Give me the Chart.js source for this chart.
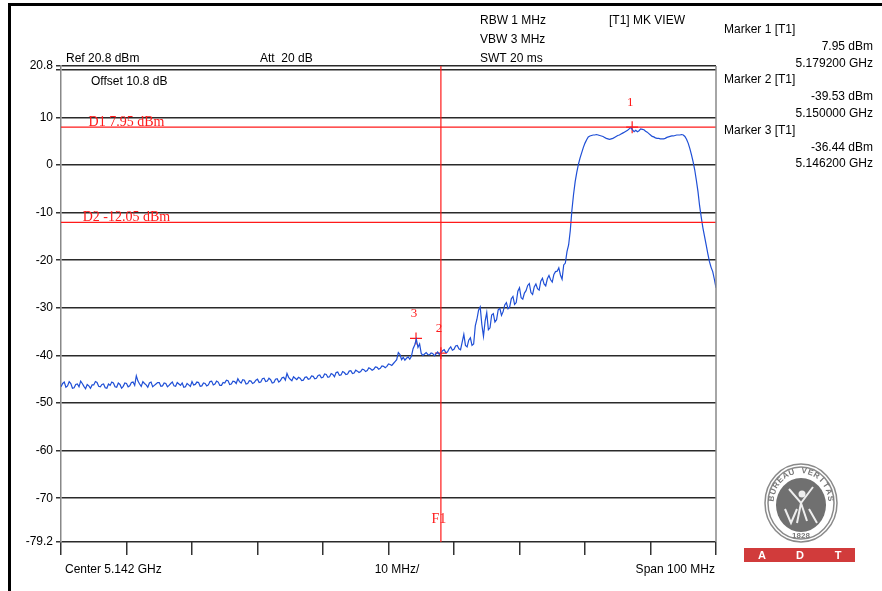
<!DOCTYPE html>
<html lang="en">
  <head>
    <meta charset="UTF-8" />
    <title>Band edge plot</title>
    <script src="https://cdn.jsdelivr.net/npm/chart.js@4.4.1/dist/chart.umd.min.js"></script>
    <style>
      body { margin: 0; background: #fff; }
      canvas { display: block; }
    </style>
  </head>
  <body>
    <canvas id="chart" width="882" height="591"></canvas>
    <script>
      // sweep: 5.092 .. 5.192 GHz, one point every 0.25 MHz (401 points)
      const freqStartMHz = 5092;
      const freqStepMHz = 0.25;
      const traceDbm = [
        // noise floor
        -46.6, -45.9, -45.6, -46.7, -46.4, -45.5, -45.9, -46.9, -46.8, -46.1, -46.0, -46.6, -45.4, -45.9, -46.5, -47.0, -46.1, -46.4, -46.9, -46.2,
        -46.2, -45.5, -45.7, -46.5, -46.6, -46.1, -46.0, -46.8, -46.9, -46.0, -46.3, -45.6, -45.8, -46.6, -46.7, -45.8, -46.1, -46.9, -46.5, -45.8,
        -45.9, -46.6, -46.4, -45.7, -45.6, -46.3, -44.3, -45.4, -46.0, -46.5, -45.5, -45.9, -46.2, -46.7, -45.8, -45.6, -46.6, -46.3, -46.0, -45.7,
        -45.7, -46.5, -46.4, -45.8, -45.9, -46.6, -46.3, -45.9, -45.6, -46.4, -46.5, -45.7, -46.0, -46.3, -45.8, -46.7, -46.6, -45.9, -46.2, -46.5,
        -45.5, -46.2, -46.1, -45.6, -45.7, -46.5, -46.4, -45.8, -45.9, -46.4, -46.2, -45.5, -45.4, -46.2, -46.0, -45.4, -45.6, -46.3, -46.3, -45.7,
        -45.8, -45.2, -45.3, -46.1, -46.0, -45.4, -45.5, -45.9, -44.9, -45.5, -45.8, -45.1, -45.2, -46.0, -45.9, -45.3, -45.4, -45.9, -45.7, -45.2,
        -45.0, -45.7, -45.6, -44.9, -44.8, -45.5, -45.4, -44.8, -45.1, -45.8, -45.7, -45.0, -44.9, -45.6, -45.3, -44.7, -44.6, -45.2, -43.8, -44.6,
        -45.0, -45.3, -44.5, -44.8, -45.1,
        // slow rise towards the band edge
        -44.6, -44.8, -45.3, -45.2, -44.6, -44.5, -45.0, -44.9, -44.3, -44.4, -44.9, -44.8, -44.2, -44.1, -44.7, -44.6, -43.9, -44.0, -44.6, -44.5,
        -43.8, -44.0, -44.5, -43.6, -43.5, -44.2, -44.1, -43.4, -43.6, -44.0, -43.9, -43.3, -43.2, -43.8, -43.7, -43.1, -43.3, -43.6, -43.4, -42.9,
        -43.0, -43.4, -43.2, -42.6, -42.8, -43.1, -42.9, -42.4, -42.5, -42.9, -42.7, -42.2, -42.3, -42.6, -42.3, -41.8, -41.9, -42.1, -41.7, -41.3,
        -40.9, -39.4, -39.8, -40.9, -40.4, -41.0, -40.6, -40.3, -40.8, -40.2, -38.6, -37.8, -36.6, -38.3, -37.6, -39.6, -40.0, -39.7, -39.4, -39.8,
        -39.9, -39.5, -39.6, -40.1, -39.7, -39.3, -39.8, -39.5,
        // skirt
        -39.0, -38.8, -39.4, -39.3, -38.6, -38.2, -38.9, -38.7, -38.0, -37.9, -38.6, -38.8, -37.2, -35.6, -37.9, -38.2, -36.8, -36.3, -37.9, -37.6,
        -33.8, -32.4, -30.5, -29.8, -33.5, -36.0, -32.8, -31.0, -34.6, -34.2, -31.5, -31.2, -33.0, -32.5, -30.4, -30.1, -31.6, -30.8, -29.4, -28.9,
        -30.2, -29.8, -28.1, -27.6, -29.3, -28.9, -26.5, -25.8, -27.9, -28.2, -26.9, -26.4, -25.3, -24.9, -26.8, -27.2, -25.6, -25.0, -26.0, -26.3,
        -24.4, -23.8, -25.0, -25.4, -23.9, -23.2, -24.1, -24.6, -23.0, -22.4, -22.3, -21.6, -23.1, -24.0, -21.0, -20.6, -18.2, -16.8, -13.8,
        // channel
        -9.5, -6.2, -3.5, -1.5, 0.2, 1.5, 2.6, 3.7, 4.6, 5.3, 5.9, 6.1, 6.2, 6.3, 6.3, 6.4, 6.3, 6.2, 6.1, 6.0,
        5.8, 5.6, 5.5, 5.4, 5.5, 5.6, 5.8, 6.0, 6.2, 6.3, 6.5, 6.7, 6.9, 7.1, 7.3, 7.6, 7.9, 7.4, 7.0, 7.3,
        7.0, 7.2, 7.6, 7.5, 7.4, 7.1, 6.9, 6.6, 6.3, 6.0, 5.9, 5.7, 5.6, 5.6, 5.5, 5.5, 5.5, 5.6, 5.8, 5.9,
        6.0, 6.1, 6.1, 6.2, 6.3, 6.3, 6.3, 6.4, 6.3, 6.0, 5.4, 4.6, 3.5, 2.2, 0.7, -1.0, -3.2, -5.6, -8.6, -11.0,
        -13.2, -15.0, -16.8, -18.6, -20.3, -21.5, -22.4, -24.0, -25.8
      ];

      const markerNames = ['1', '2', '3'];
      const markerFreqMHz = [5179.2, 5150.0, 5146.2];
      const markerDbm = [7.95, -39.53, -36.44];

      const displayLineNames = ['D1 7.95 dBm', 'D2 -12.05 dBm'];
      const displayLineDbm = [7.95, -12.05];
      const freqLineName = 'F1';
      const freqLineMHz = 5150;

      const yTicks = [20.8, 20, 10, 0, -10, -20, -30, -40, -50, -60, -70, -79.2];
      const yMin = -79.2;
      const yMax = 20.8;
      const xTicksMHz = [5092, 5102, 5112, 5122, 5132, 5142, 5152, 5162, 5172, 5182, 5192];

      const sans = '"Liberation Sans", Arial, sans-serif';
      const serif = '"Liberation Serif", "Times New Roman", serif';
      const red = '#ff1a1a';

      const trace = traceDbm.map((v, i) => ({ x: freqStartMHz + i * freqStepMHz, y: v }));
      const markers = markerFreqMHz.map((f, i) => ({ x: f, y: markerDbm[i] }));

      const datasets = [];
      displayLineDbm.forEach(d => {
        datasets.push({
          data: [{ x: xTicksMHz[0], y: d }, { x: xTicksMHz[xTicksMHz.length - 1], y: d }],
          borderColor: red, borderWidth: 1.2, pointRadius: 0
        });
      });
      datasets.push({
        data: [{ x: freqLineMHz, y: yMax }, { x: freqLineMHz, y: yMin }],
        borderColor: red, borderWidth: 1.2, pointRadius: 0
      });
      datasets.push({
        data: trace, borderColor: '#1f4fd6', borderWidth: 1.2, pointRadius: 0, tension: 0
      });
      datasets.push({
        data: markers, showLine: false, pointStyle: 'cross', pointRadius: 6,
        borderColor: red, borderWidth: 1.2
      });

      function text(ctx, s, x, y, font, color, align) {
        ctx.font = font;
        ctx.fillStyle = color;
        ctx.textAlign = align || 'left';
        ctx.textBaseline = 'alphabetic';
        ctx.fillText(s, x, y);
      }

      const decor = {
        id: 'decor',
        afterDraw(chart) {
          const ctx = chart.ctx;
          const a = chart.chartArea;
          const xs = chart.scales.x, ys = chart.scales.y;
          ctx.save();
          // outer frame
          ctx.fillStyle = '#000';
          ctx.fillRect(8, 3, 874, 3);
          ctx.fillRect(8, 3, 3, 588);
          // right plot edge
          ctx.strokeStyle = '#888';
          ctx.lineWidth = 1.5;
          ctx.beginPath();
          ctx.moveTo(a.right, a.top);
          ctx.lineTo(a.right, a.bottom);
          ctx.stroke();

          const f = '12px ' + sans;
          text(ctx, 'Ref 20.8 dBm', 66, 62, f, '#000');
          text(ctx, 'Att  20 dB', 260, 62, f, '#000');
          text(ctx, 'Offset 10.8 dB', 91, 85, f, '#000');
          text(ctx, 'RBW 1 MHz', 480, 24, f, '#000');
          text(ctx, 'VBW 3 MHz', 480, 43, f, '#000');
          text(ctx, 'SWT 20 ms', 480, 62, f, '#000');
          text(ctx, '[T1] MK VIEW', 609, 24, f, '#000');

          const rows = [];
          markerNames.forEach((n, i) => {
            rows.push(['Marker ' + n + ' [T1]', 'left']);
            rows.push([markerDbm[i].toFixed(2) + ' dBm', 'right']);
            rows.push([(markerFreqMHz[i] / 1000).toFixed(6) + ' GHz', 'right']);
          });
          rows.forEach((r, i) => {
            const y = 33 + i * 16.8;
            text(ctx, r[0], r[1] === 'left' ? 724 : 873, y, f, '#000', r[1]);
          });

          text(ctx, 'Center 5.142 GHz', 65, 573, f, '#000');
          text(ctx, '10 MHz/', 397, 573, f, '#000', 'center');
          text(ctx, 'Span 100 MHz', 715, 573, f, '#000', 'right');

          // display / frequency line labels
          const rf = '14px ' + serif;
          displayLineNames.forEach((n, i) => {
            text(ctx, n, xs.getPixelForValue(5102), ys.getPixelForValue(displayLineDbm[i]) - 1, rf, red, 'center');
          });
          text(ctx, freqLineName, xs.getPixelForValue(freqLineMHz) - 2, a.bottom - 19, rf, red, 'center');
          markerNames.forEach((n, i) => {
            text(ctx, n, xs.getPixelForValue(markerFreqMHz[i]) - 2, ys.getPixelForValue(markerDbm[i]) - 21, '13px ' + serif, red, 'center');
          });

          // logo
          const cx = 801, cy = 503;
          ctx.fillStyle = '#fff';
          ctx.strokeStyle = '#8a8a8a';
          ctx.lineWidth = 1.5;
          ctx.beginPath();
          ctx.ellipse(cx, cy, 36, 39, 0, 0, Math.PI * 2);
          ctx.fill();
          ctx.stroke();
          ctx.beginPath();
          ctx.ellipse(cx, cy, 33, 36, 0, 0, Math.PI * 2);
          ctx.stroke();
          ctx.fillStyle = '#707070';
          ctx.beginPath();
          ctx.ellipse(cx, cy + 2, 25, 27, 0, 0, Math.PI * 2);
          ctx.fill();
          ctx.font = 'bold 8px ' + sans;
          ctx.fillStyle = '#777';
          ctx.textAlign = 'center';
          ctx.textBaseline = 'middle';
          const ring = 'BUREAU VERITAS';
          for (let i = 0; i < ring.length; i++) {
            const ang = -Math.PI / 2 + (i - (ring.length - 1) / 2) * 0.22;
            ctx.save();
            ctx.translate(cx + Math.cos(ang) * 29.5, cy + Math.sin(ang) * 32);
            ctx.rotate(ang + Math.PI / 2);
            ctx.fillText(ring[i], 0, 0);
            ctx.restore();
          }
          ctx.fillText('1828', cx, cy + 33);
          ctx.strokeStyle = '#eee';
          ctx.lineWidth = 2;
          ctx.beginPath();
          ctx.moveTo(cx - 12, cy - 14); ctx.lineTo(cx, cy); ctx.lineTo(cx + 12, cy - 16);
          ctx.moveTo(cx, cy); ctx.lineTo(cx - 4, cy + 20);
          ctx.moveTo(cx, cy); ctx.lineTo(cx + 6, cy + 18);
          ctx.moveTo(cx - 16, cy + 6); ctx.lineTo(cx - 10, cy + 20); ctx.lineTo(cx - 4, cy + 6);
          ctx.moveTo(cx + 8, cy + 6); ctx.lineTo(cx + 16, cy + 20);
          ctx.stroke();
          ctx.beginPath();
          ctx.arc(cx + 1, cy - 9, 3.5, 0, Math.PI * 2);
          ctx.fillStyle = '#eee';
          ctx.fill();

          ctx.fillStyle = '#d13b3b';
          ctx.fillRect(744, 548, 111, 14);
          ctx.font = 'bold 11px ' + sans;
          ctx.fillStyle = '#fff';
          ctx.fillText('A', 762, 555.5);
          ctx.fillText('D', 800, 555.5);
          ctx.fillText('T', 838, 555.5);
          ctx.restore();
        }
      };

      new Chart(document.getElementById('chart').getContext('2d'), {
        type: 'line',
        data: { datasets },
        options: {
          responsive: false,
          animation: false,
          layout: { padding: { left: 0, top: 66, right: 166, bottom: 0 } },
          plugins: { legend: { display: false }, tooltip: { enabled: false } },
          scales: {
            x: {
              type: 'linear',
              min: xTicksMHz[0],
              max: xTicksMHz[xTicksMHz.length - 1],
              afterBuildTicks: s => { s.ticks = xTicksMHz.map(v => ({ value: v })); },
              afterFit: s => { s.height = 49; },
              border: { display: false },
              grid: { drawOnChartArea: false, drawTicks: true, tickLength: 13, tickColor: '#333', lineWidth: 1.5 },
              ticks: { display: false }
            },
            y: {
              min: yMin,
              max: yMax,
              afterBuildTicks: s => { s.ticks = yTicks.map(v => ({ value: v })); },
              afterFit: s => { s.width = 61; },
              border: { display: true, color: '#888', width: 1.5 },
              grid: { color: '#2a2a2a', lineWidth: 1.5, tickLength: 5, tickColor: '#333' },
              ticks: {
                color: '#000',
                padding: 3,
                font: { family: sans, size: 12 },
                callback: v => (v === 20 ? '' : String(v))
              }
            }
          }
        },
        plugins: [decor]
      });
    </script>
  </body>
</html>
